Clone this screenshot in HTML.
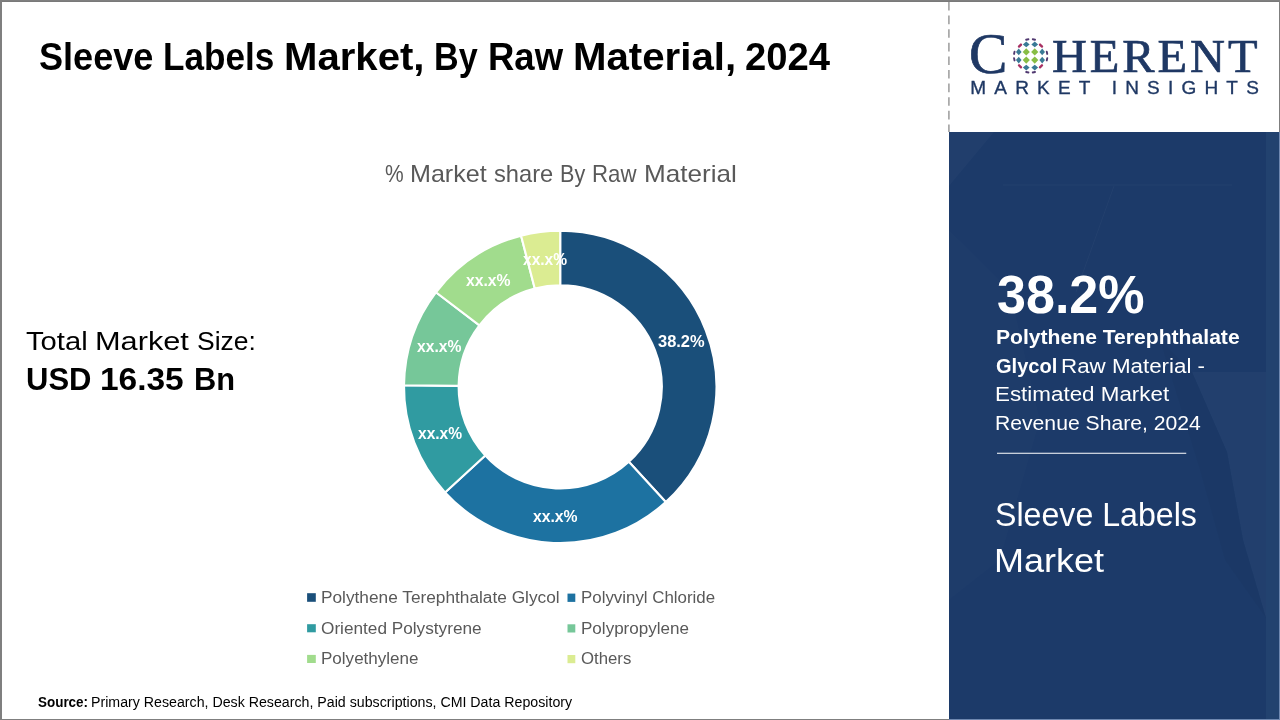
<!DOCTYPE html>
<html lang="en"><head><meta charset="utf-8"><title>Sleeve Labels Market, By Raw Material, 2024</title>
<style>
html,body{margin:0;padding:0}
body{width:1280px;height:720px;position:relative;overflow:hidden;background:#fff;font-family:"Liberation Sans",sans-serif}
.t{position:absolute;display:block;white-space:nowrap;line-height:1;transform-origin:0 50%}

#panel{position:absolute;left:949px;top:132px;width:331px;height:588px;background:#1c3a69;overflow:hidden}
.fr{position:absolute;background:#7f7f7f}
svg{position:absolute;left:0;top:0}
</style></head><body>
<div id="panel"><svg class="bgx" width="331" height="588" viewBox="949 132 331 588" style="left:0;top:0">
<polygon points="949,132 994,132 949,186" fill="#fff" fill-opacity=".025"/>
<polygon points="949,230 1010,290 1040,420 1000,560 949,600" fill="#fff" fill-opacity=".012"/>
<line x1="1003" y1="185" x2="1232" y2="185" stroke="#fff" stroke-opacity=".035" stroke-width="1"/>
<line x1="1114" y1="186" x2="1076" y2="292" stroke="#fff" stroke-opacity=".03" stroke-width="1"/>
<polygon points="1192,372 1266,372 1266,618 1243,540 1227,452" fill="#fff" fill-opacity=".028"/>
<polygon points="1160,340 1192,372 1227,452 1243,540 1266,618 1225,560 1200,470" fill="#000" fill-opacity=".025"/>
</svg><div class="bgx" style="position:absolute;right:1px;top:0;width:13px;height:100%;background:#22426f"></div></div>
<svg width="1280" height="720" viewBox="0 0 1280 720">
<line x1="948.9" y1="2" x2="948.9" y2="132" stroke="#a2a2a2" stroke-width="1.6" stroke-dasharray="8.6 5"/>
<g stroke="#fff" stroke-width="2.1" stroke-linejoin="miter"><path d="M560.20 230.70A156.2 156.2 0 0 1 665.73 502.06L628.84 461.81A101.6 101.6 0 0 0 560.20 285.30Z" fill="#1a4f7a"/><path d="M665.73 502.06A156.2 156.2 0 0 1 445.04 492.43L485.29 455.54A101.6 101.6 0 0 0 628.84 461.81Z" fill="#1d72a1"/><path d="M445.04 492.43A156.2 156.2 0 0 1 404.01 385.26L458.61 385.84A101.6 101.6 0 0 0 485.29 455.54Z" fill="#309ba1"/><path d="M404.01 385.26A156.2 156.2 0 0 1 435.95 292.24L479.38 325.33A101.6 101.6 0 0 0 458.61 385.84Z" fill="#76c799"/><path d="M435.95 292.24A156.2 156.2 0 0 1 521.09 235.68L534.76 288.54A101.6 101.6 0 0 0 479.38 325.33Z" fill="#a1dc8d"/><path d="M521.09 235.68A156.2 156.2 0 0 1 560.20 230.70L560.20 285.30A101.6 101.6 0 0 0 534.76 288.54Z" fill="#dbec92"/></g>
<g><path d="M1026.25 48.3L1029.85 51.9L1026.25 55.5L1022.65 51.9Z" fill="#88bd45"/><path d="M1026.25 56.5L1029.85 60.1L1026.25 63.7L1022.65 60.1Z" fill="#88bd45"/><path d="M1034.75 48.3L1038.35 51.9L1034.75 55.5L1031.15 51.9Z" fill="#88bd45"/><path d="M1034.75 56.5L1038.35 60.1L1034.75 63.7L1031.15 60.1Z" fill="#88bd45"/><path d="M1018.75 48.5L1021.55 51.9L1018.75 55.3L1015.95 51.9Z" fill="#3a7a96"/><path d="M1018.75 56.7L1021.55 60.1L1018.75 63.5L1015.95 60.1Z" fill="#3a7a96"/><path d="M1042.2 48.5L1045.0 51.9L1042.2 55.3L1039.4 51.9Z" fill="#3a7a96"/><path d="M1042.2 56.7L1045.0 60.1L1042.2 63.5L1039.4 60.1Z" fill="#3a7a96"/><path d="M1026.25 41.6L1029.65 44.4L1026.25 47.199999999999996L1022.85 44.4Z" fill="#3a7a96"/><path d="M1034.75 41.6L1038.15 44.4L1034.75 47.199999999999996L1031.35 44.4Z" fill="#3a7a96"/><path d="M1026.25 64.8L1029.65 67.6L1026.25 70.39999999999999L1022.85 67.6Z" fill="#3a7a96"/><path d="M1034.75 64.8L1038.15 67.6L1034.75 70.39999999999999L1031.35 67.6Z" fill="#3a7a96"/><rect x="1017.5" y="44.4" width="5" height="2.4" rx="1" fill="#a83062" transform="rotate(-45 1020 45.6)"/><rect x="1038.5" y="44.4" width="5" height="2.4" rx="1" fill="#a83062" transform="rotate(45 1041 45.6)"/><rect x="1017.5" y="65.1" width="5" height="2.4" rx="1" fill="#a83062" transform="rotate(45 1020 66.3)"/><rect x="1038.5" y="65.1" width="5" height="2.4" rx="1" fill="#a83062" transform="rotate(-45 1041 66.3)"/><rect x="1025.2" y="38.55" width="4.2" height="1.9" rx="0.9" fill="#503870" transform="rotate(-12 1027.3 39.5)"/><rect x="1031.8000000000002" y="38.55" width="4.2" height="1.9" rx="0.9" fill="#503870" transform="rotate(12 1033.9 39.5)"/><rect x="1025.2" y="71.25" width="4.2" height="1.9" rx="0.9" fill="#503870" transform="rotate(12 1027.3 72.2)"/><rect x="1031.8000000000002" y="71.25" width="4.2" height="1.9" rx="0.9" fill="#503870" transform="rotate(-12 1033.9 72.2)"/><rect x="1012.1999999999999" y="51.849999999999994" width="4.2" height="1.9" rx="0.9" fill="#503870" transform="rotate(-78 1014.3 52.8)"/><rect x="1012.1999999999999" y="58.349999999999994" width="4.2" height="1.9" rx="0.9" fill="#503870" transform="rotate(78 1014.3 59.3)"/><rect x="1044.9" y="51.849999999999994" width="4.2" height="1.9" rx="0.9" fill="#503870" transform="rotate(78 1047.0 52.8)"/><rect x="1044.9" y="58.349999999999994" width="4.2" height="1.9" rx="0.9" fill="#503870" transform="rotate(-78 1047.0 59.3)"/></g>
<g><rect x="307.1" y="593.2" width="8.7" height="8.6" fill="#1a4f7a"/><rect x="567.5" y="593.6" width="7.8" height="8.3" fill="#1d72a1"/><rect x="307.1" y="624.2" width="8.7" height="8.1" fill="#309ba1"/><rect x="567.5" y="624.3" width="7.8" height="8.2" fill="#76c799"/><rect x="307.1" y="654.9" width="8.7" height="8.1" fill="#a1dc8d"/><rect x="567.5" y="655.0" width="7.8" height="8.2" fill="#dbec92"/></g>
<line x1="997" y1="453.25" x2="1186.25" y2="453.25" stroke="#fff" stroke-width="1"/>
</svg>
<div id="title">
<span class="t" id="title0" style="left:39.07px;top:36.99px;font-size:39px;color:#000;font-weight:700;transform:scaleX(0.9256);">Sleeve</span>
<span class="t" id="title1" style="left:162.70px;top:36.99px;font-size:39px;color:#000;font-weight:700;transform:scaleX(0.9000);">Labels</span>
<span class="t" id="title2" style="left:284.19px;top:36.99px;font-size:39px;color:#000;font-weight:700;transform:scaleX(1.0284);">Market,</span>
<span class="t" id="title3" style="left:433.75px;top:36.99px;font-size:39px;color:#000;font-weight:700;transform:scaleX(0.8750);">By</span>
<span class="t" id="title4" style="left:488.13px;top:36.99px;font-size:39px;color:#000;font-weight:700;transform:scaleX(0.9359);">Raw</span>
<span class="t" id="title5" style="left:572.94px;top:36.99px;font-size:39px;color:#000;font-weight:700;transform:scaleX(1.0308);">Material,</span>
<span class="t" id="title6" style="left:745.27px;top:36.99px;font-size:39px;color:#000;font-weight:700;transform:scaleX(0.9797);">2024</span>
</div>
<div id="ctitle">
<span class="t" id="ct0" style="left:385.38px;top:162.43px;font-size:24px;color:#595959;transform:scaleX(0.8750);">%</span>
<span class="t" id="ct1" style="left:409.91px;top:162.43px;font-size:24px;color:#595959;transform:scaleX(1.0458);">Market</span>
<span class="t" id="ct2" style="left:494.01px;top:162.43px;font-size:24px;color:#595959;transform:scaleX(0.9862);">share</span>
<span class="t" id="ct3" style="left:559.80px;top:162.43px;font-size:24px;color:#595959;transform:scaleX(0.9000);">By</span>
<span class="t" id="ct4" style="left:592.15px;top:162.43px;font-size:24px;color:#595959;transform:scaleX(0.9261);">Raw</span>
<span class="t" id="ct5" style="left:643.73px;top:162.43px;font-size:24px;color:#595959;transform:scaleX(1.0866);">Material</span>
</div>
<div id="tms">
<span class="t" id="tms0" style="left:26.25px;top:328.49px;font-size:26px;color:#000;transform:scaleX(1.1226);">Total</span>
<span class="t" id="tms1" style="left:94.64px;top:328.49px;font-size:26px;color:#000;transform:scaleX(1.1818);">Market</span>
<span class="t" id="tms2" style="left:196.98px;top:328.49px;font-size:26px;color:#000;transform:scaleX(1.0185);">Size:</span>
</div>
<div id="usd">
<span class="t" id="usd0" style="left:25.56px;top:363.41px;font-size:32px;color:#000;font-weight:700;transform:scaleX(0.9688);">USD</span>
<span class="t" id="usd1" style="left:99.91px;top:363.41px;font-size:32px;color:#000;font-weight:700;transform:scaleX(1.0455);">16.35</span>
<span class="t" id="usd2" style="left:194.33px;top:363.41px;font-size:32px;color:#000;font-weight:700;transform:scaleX(0.9615);">Bn</span>
</div>
<div class="t" id="d1" style="left:657.50px;top:334.46px;font-size:16px;color:#fff;font-weight:700;transform:scaleX(1.0278);">38.2%</div>
<div class="t" id="d2" style="left:532.50px;top:509.46px;font-size:16px;color:#fff;font-weight:700;transform:scaleX(0.9833);">xx.x%</div>
<div class="t" id="d3" style="left:417.50px;top:426.46px;font-size:16px;color:#fff;font-weight:700;transform:scaleX(0.9722);">xx.x%</div>
<div class="t" id="d4" style="left:416.75px;top:339.46px;font-size:16px;color:#fff;font-weight:700;transform:scaleX(0.9778);">xx.x%</div>
<div class="t" id="d5" style="left:466.25px;top:273.46px;font-size:16px;color:#fff;font-weight:700;transform:scaleX(0.9833);">xx.x%</div>
<div class="t" id="d6" style="left:522.50px;top:252.46px;font-size:16px;color:#fff;font-weight:700;transform:scaleX(0.9722);">xx.x%</div>
<div class="t" id="l1" style="left:321.42px;top:590.46px;font-size:16px;color:#595959;transform:scaleX(1.0788);">Polythene Terephthalate Glycol</div>
<div class="t" id="l2" style="left:581.45px;top:590.46px;font-size:16px;color:#595959;transform:scaleX(1.0548);">Polyvinyl Chloride</div>
<div class="t" id="l3" style="left:321.43px;top:621.21px;font-size:16px;color:#595959;transform:scaleX(1.0750);">Oriented Polystyrene</div>
<div class="t" id="l4" style="left:581.43px;top:621.21px;font-size:16px;color:#595959;transform:scaleX(1.0650);">Polypropylene</div>
<div class="t" id="l5" style="left:321.44px;top:651.21px;font-size:16px;color:#595959;transform:scaleX(1.0644);">Polyethylene</div>
<div class="t" id="l6" style="left:581.45px;top:651.21px;font-size:16px;color:#595959;transform:scaleX(1.0468);">Others</div>
<div id="src">
<span class="t" id="srca" style="left:38.44px;top:695.15px;font-size:14px;color:#000;font-weight:700;transform:scaleX(0.9600);">Source:</span>
<span class="t" id="srcb" style="left:91.49px;top:695.15px;font-size:14px;color:#000;transform:scaleX(1.0137);">Primary Research, Desk Research, Paid subscriptions, CMI Data Repository</span>
</div>
<div class="t" id="big" style="left:996.54px;top:267.29px;font-size:54px;color:#fff;font-weight:700;transform:scaleX(0.9636);">38.2%</div>
<div class="t" id="p1" style="left:995.94px;top:326.82px;font-size:20px;color:#fff;transform:scaleX(1.0557);"><b>Polythene Terephthalate</b></div>
<div id="p2">
<span class="t" id="p2a" style="left:996.00px;top:355.57px;font-size:20px;color:#fff;font-weight:700;transform:scaleX(1.0042);">Glycol</span>
<span class="t" id="p2b" style="left:1060.77px;top:355.57px;font-size:20px;color:#fff;transform:scaleX(1.1171);">Raw Material -</span>
</div>
<div class="t" id="p3" style="left:995.26px;top:384.32px;font-size:20px;color:#fff;transform:scaleX(1.1193);">Estimated Market</div>
<div class="t" id="p4" style="left:995.39px;top:413.07px;font-size:20px;color:#fff;transform:scaleX(1.0573);">Revenue Share, 2024</div>
<div class="t" id="m1" style="left:995.11px;top:497.47px;font-size:34px;color:#fff;transform:scaleX(0.9452);">Sleeve Labels</div>
<div class="t" id="m2" style="left:994.32px;top:543.22px;font-size:34px;color:#fff;transform:scaleX(1.0594);">Market</div>
<div class="t" id="lgC" style="left:969.26px;top:24.92px;font-size:58px;color:#1f3864;-webkit-text-stroke:0.7px #1f3864;font-family:'Liberation Serif',serif;transform:scaleX(0.9926);">C</div>
<div class="t" id="lgH" style="left:1051.96px;top:34.36px;font-size:46.5px;color:#1f3864;-webkit-text-stroke:0.7px #1f3864;font-family:'Liberation Serif',serif;letter-spacing:2.831px;transform:scaleX(1.0400);">HERENT</div>
<div class="t" id="lgM" style="left:970.25px;top:77.67px;font-size:19px;color:#1f3864;-webkit-text-stroke:0.35px #1f3864;letter-spacing:8.196px;">MARKET INSIGHTS</div>

<div class="fr" style="left:0;top:0;width:1280px;height:1px"></div>
<div class="fr" style="left:0;top:1px;width:1280px;height:1px;background:#797979"></div>
<div class="fr" style="left:0;top:0;width:2px;height:720px"></div>
<div class="fr" style="left:1279px;top:0;width:1px;height:132px"></div>
<div class="fr" style="left:1279px;top:132px;width:1px;height:588px;background:#6f88b0"></div>
<div class="fr" style="left:0;top:719px;width:949px;height:1px"></div>
<div class="fr" style="left:949px;top:719px;width:331px;height:1px;background:#6f88b0"></div>
</body></html>
